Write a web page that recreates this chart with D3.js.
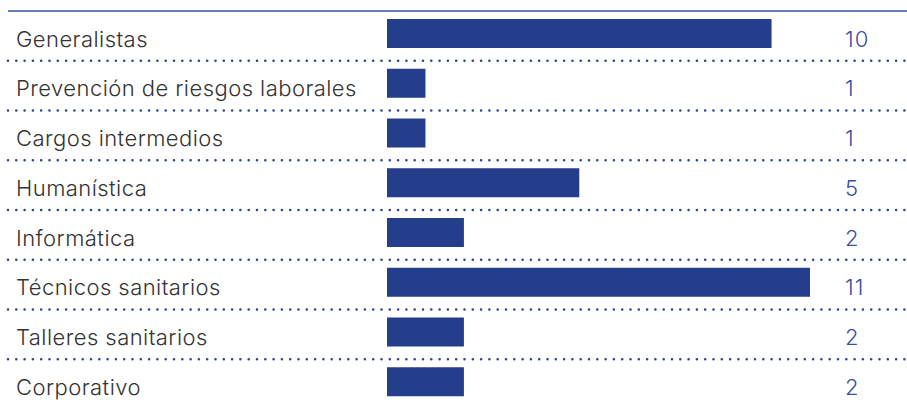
<!DOCTYPE html>
<html>
<head>
<meta charset="utf-8">
<script src="https://cdn.jsdelivr.net/npm/d3@7"></script>
<style>
    body { margin: 0; background: #fff; }
    .label { font-family: Inter, "Noto Sans", sans-serif; font-weight: 300; font-size: 22px; letter-spacing: 0.45px; fill: #333; }
    .value { font-family: Inter, "Noto Sans", sans-serif; font-weight: 300; font-size: 22px; letter-spacing: 1px; fill: #3b4f9e; }
</style>
</head>
<body>
<div id="chart"></div>
<script>
var categories = [
    "Generalistas",
    "Prevención de riesgos laborales",
    "Cargos intermedios",
    "Humanística",
    "Informática",
    "Técnicos sanitarios",
    "Talleres sanitarios",
    "Corporativo"
];
var values = [10, 1, 1, 5, 2, 11, 2, 2];

var width = 907;
var height = 406;
var top0 = 11;
var rowH = 49.75;
var barX = 387;

var data = categories.map(function (c, i) {
    return { name: c, value: values[i] };
});

var svg = d3.select("#chart")
    .append("svg")
    .attr("width", width)
    .attr("height", height);

var y = d3.scaleBand()
    .domain(categories)
    .range([top0, top0 + rowH * categories.length]);

var x = d3.scaleLinear()
    .domain([0, d3.max(values)])
    .range([0, 423]);

// top rule
svg.append("line")
    .attr("x1", 8)
    .attr("x2", width)
    .attr("y1", top0)
    .attr("y2", top0)
    .attr("stroke", "#6a7fba")
    .attr("stroke-width", 2);

// dotted separators between rows
svg.selectAll(".sep")
    .data(categories.slice(0, -1))
    .enter()
    .append("line")
    .attr("class", "sep")
    .attr("x1", 8)
    .attr("x2", width)
    .attr("y1", function (d) { return y(d) + y.bandwidth(); })
    .attr("y2", function (d) { return y(d) + y.bandwidth(); })
    .attr("stroke", "#2d4393")
    .attr("stroke-width", 2.6)
    .attr("stroke-linecap", "round")
    .attr("stroke-dasharray", "0,8.3");

var rows = svg.selectAll(".row")
    .data(data)
    .enter()
    .append("g")
    .attr("class", "row")
    .attr("transform", function (d) { return "translate(0," + y(d.name) + ")"; });

rows.append("rect")
    .attr("x", barX)
    .attr("y", 8)
    .attr("width", function (d) { return x(d.value); })
    .attr("height", 29)
    .attr("fill", "#253e8b");

rows.append("text")
    .attr("class", "label")
    .attr("x", 16)
    .attr("y", 35.5)
    .text(function (d) { return d.name; });

rows.append("text")
    .attr("class", "value")
    .attr("x", 845)
    .attr("y", 35.5)
    .text(function (d) { return d.value; });
</script>
</body>
</html>
